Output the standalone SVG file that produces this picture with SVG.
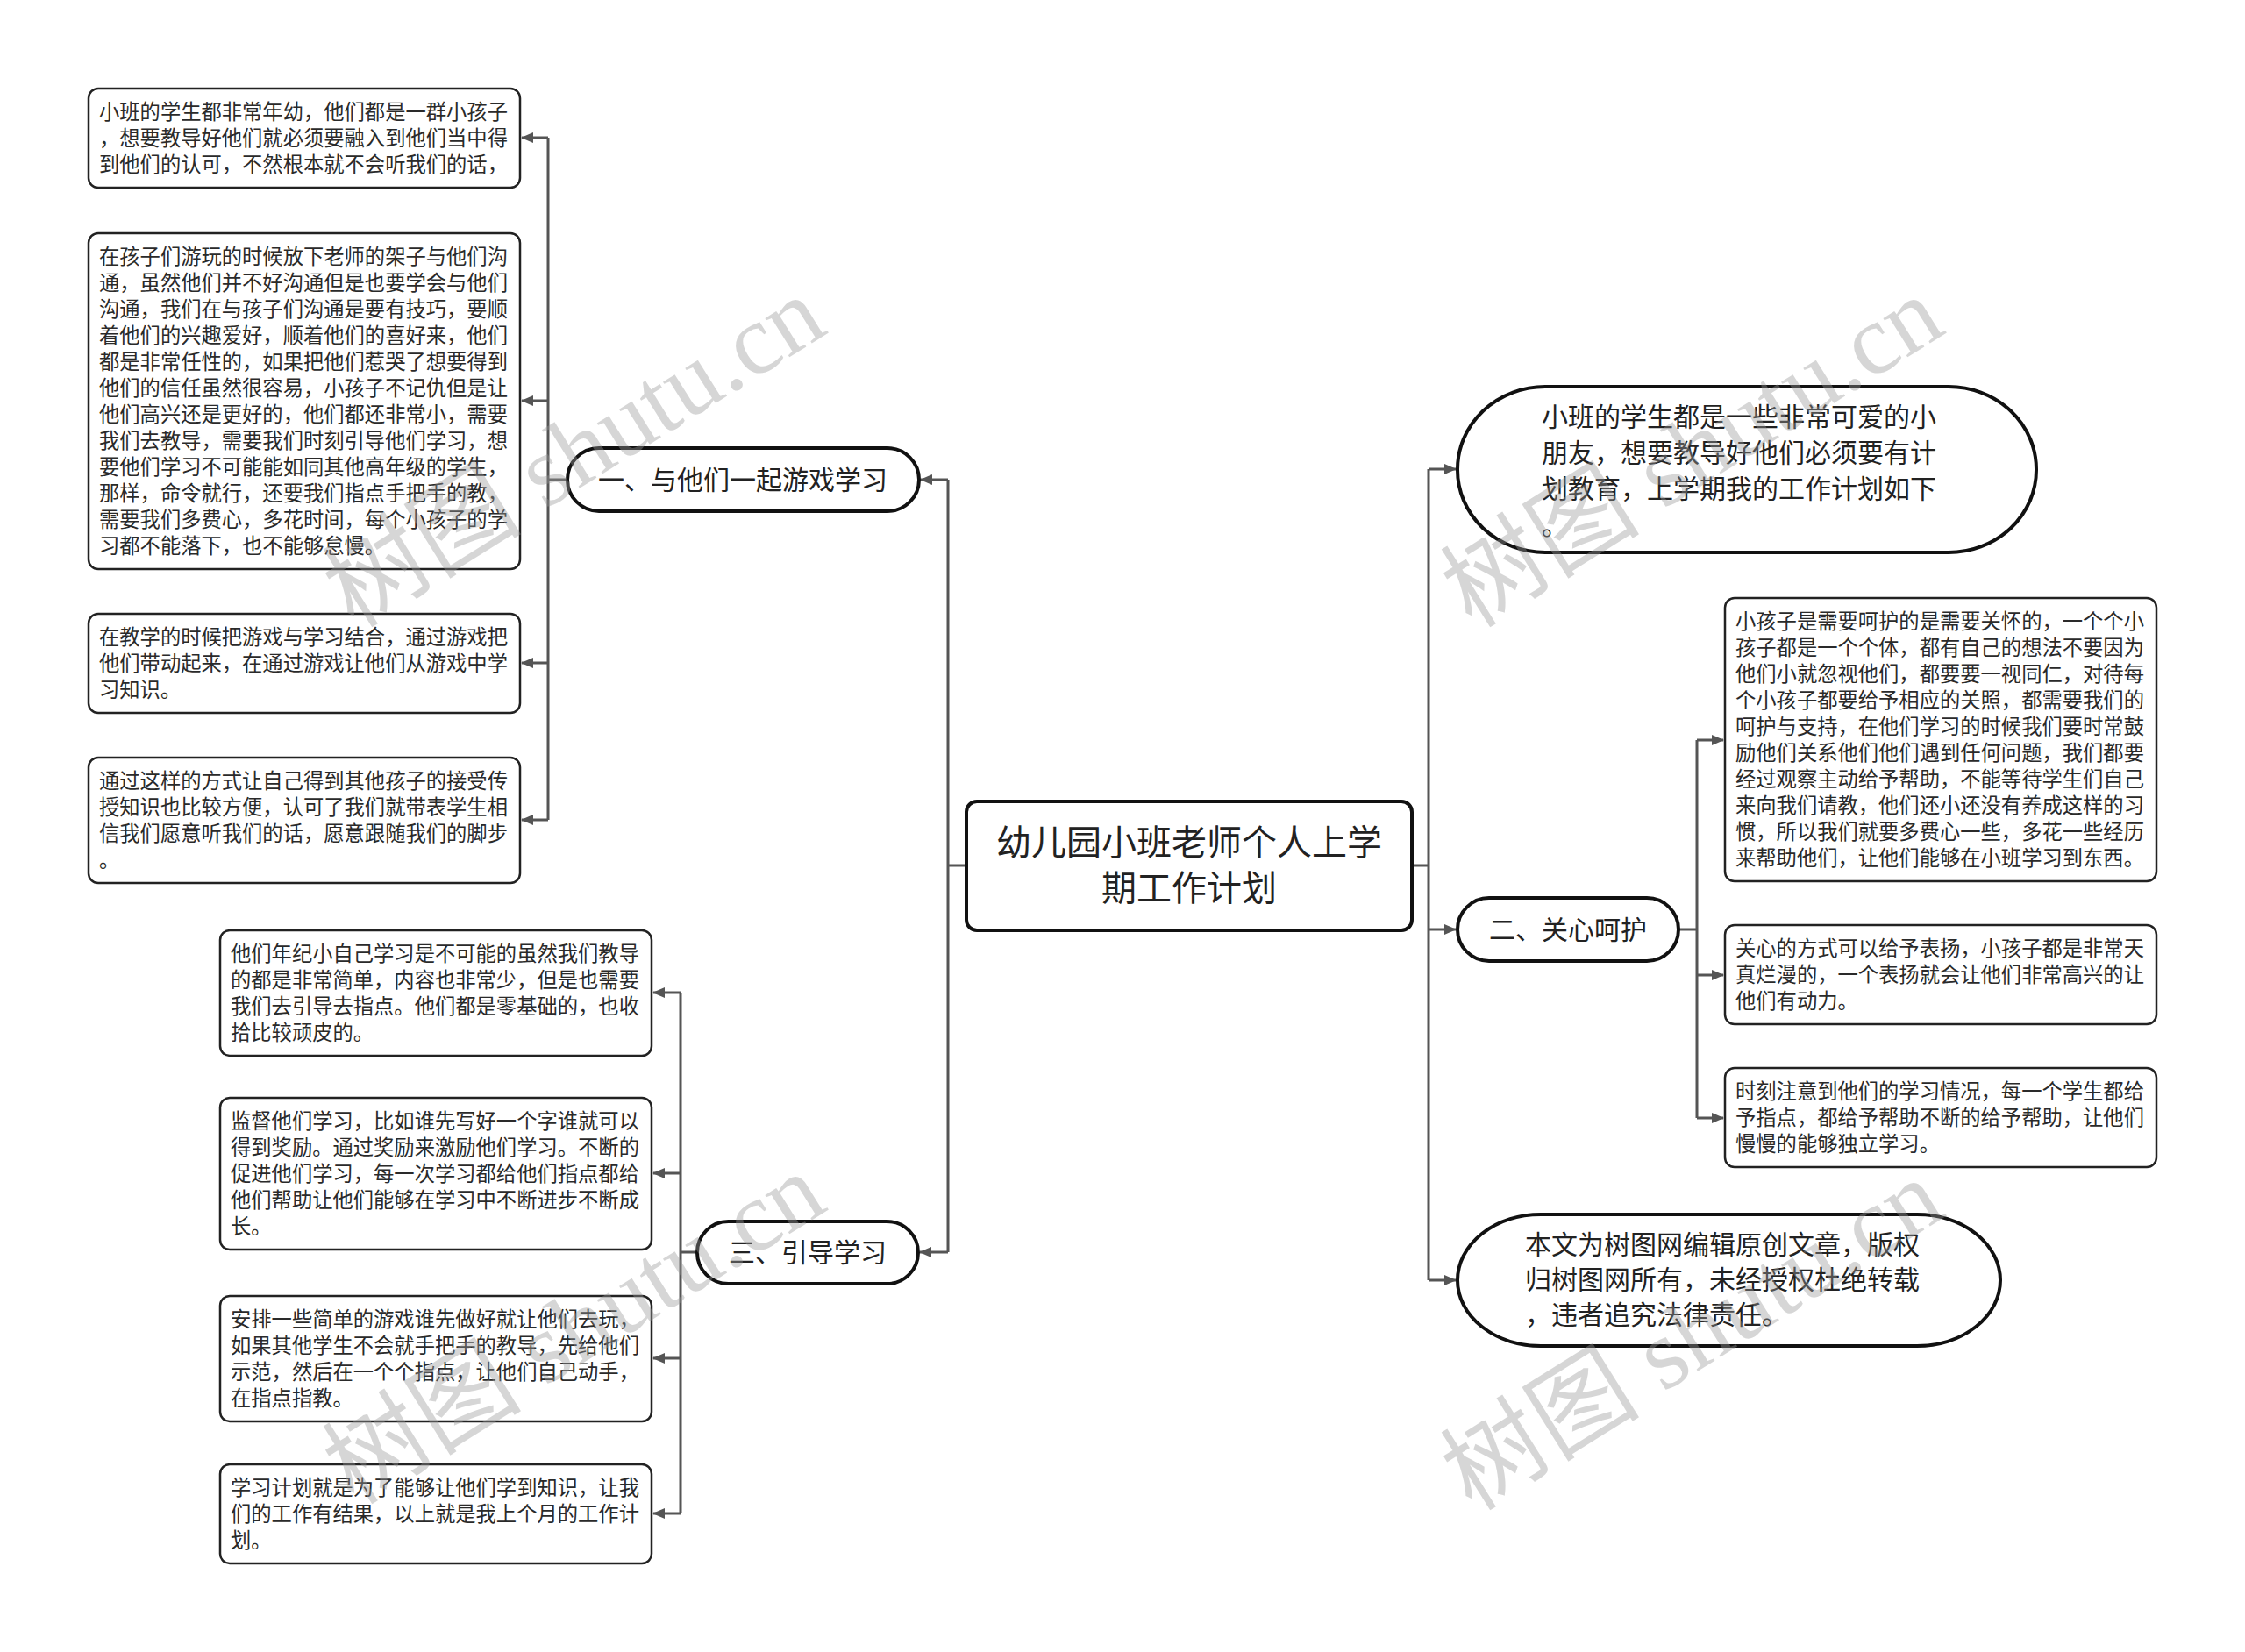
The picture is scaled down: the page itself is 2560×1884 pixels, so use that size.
<svg xmlns="http://www.w3.org/2000/svg" width="2560" height="1884" viewBox="0 0 2560 1884">
<defs>
<style>
.leaf{fill:#fff;stroke:#222;stroke-width:2.5}
.main{fill:#fff;stroke:#111;stroke-width:4}
.lt{font-family:"Noto Sans CJK SC","Noto Sans",sans-serif;font-size:23.3px;fill:#2a2a2a}
.nt{font-family:"Noto Sans CJK SC","Noto Sans",sans-serif;font-size:30px;fill:#222}
.ct{font-family:"Noto Sans CJK SC","Noto Sans",sans-serif;font-size:40px;fill:#222;text-anchor:middle}
.con{fill:none;stroke:#555;stroke-width:3}
.wm{font-family:"Liberation Serif","Noto Sans CJK SC",serif;font-size:114px;fill:#999;fill-opacity:0.4;text-anchor:middle}
</style>
<marker id="arr" markerWidth="14" markerHeight="12" refX="13" refY="6" orient="auto" markerUnits="userSpaceOnUse">
<path d="M0,0 L14,6 L0,12 Z" fill="#555"/>
</marker>
</defs>
<rect width="2560" height="1884" fill="#fff"/>

<g id="connectors">
<path class="con" d="M1102,987 H1081 M1081,547 V1428"/>
<path class="con" d="M1081,547 H1050" marker-end="url(#arr)"/>
<path class="con" d="M1081,1428 H1049" marker-end="url(#arr)"/>
<path class="con" d="M647,547 H625 M625,157 V935"/>
<path class="con" d="M625,157 H595" marker-end="url(#arr)"/>
<path class="con" d="M625,457 H595" marker-end="url(#arr)"/>
<path class="con" d="M625,756 H595" marker-end="url(#arr)"/>
<path class="con" d="M625,935 H595" marker-end="url(#arr)"/>
<path class="con" d="M795,1428 H776 M776,1132 V1726"/>
<path class="con" d="M776,1132 H745" marker-end="url(#arr)"/>
<path class="con" d="M776,1338 H745" marker-end="url(#arr)"/>
<path class="con" d="M776,1549 H745" marker-end="url(#arr)"/>
<path class="con" d="M776,1726 H745" marker-end="url(#arr)"/>
<path class="con" d="M1610,987 H1629 M1629,535 V1460"/>
<path class="con" d="M1629,535 H1660" marker-end="url(#arr)"/>
<path class="con" d="M1629,1060 H1660" marker-end="url(#arr)"/>
<path class="con" d="M1629,1460 H1660" marker-end="url(#arr)"/>
<path class="con" d="M1914,1060 H1935 M1935,844 V1275"/>
<path class="con" d="M1935,844 H1965" marker-end="url(#arr)"/>
<path class="con" d="M1935,1112 H1965" marker-end="url(#arr)"/>
<path class="con" d="M1935,1275 H1965" marker-end="url(#arr)"/>
</g>

<g id="center">
<rect class="main" x="1102" y="914" width="508" height="147" rx="12"/>
<text class="ct"><tspan x="1356" y="975">幼儿园小班老师个人上学</tspan><tspan x="1356" y="1027">期工作计划</tspan></text>
</g>

<g id="b1">
<rect class="main" x="647" y="511" width="401" height="72" rx="36"/>
<text class="nt" x="847" y="558" text-anchor="middle">一、与他们一起游戏学习</text>
</g>
<g id="b1l1">
<rect class="leaf" x="101" y="101" width="492" height="113" rx="11"/>
<text class="lt"><tspan x="113" y="136">小班的学生都非常年幼，他们都是一群小孩子</tspan><tspan x="113" y="166">，想要教导好他们就必须要融入到他们当中得</tspan><tspan x="113" y="196">到他们的认可，不然根本就不会听我们的话，</tspan></text>
</g>
<g id="b1l2">
<rect class="leaf" x="101" y="266" width="492" height="383" rx="11"/>
<text class="lt"><tspan x="113" y="301">在孩子们游玩的时候放下老师的架子与他们沟</tspan><tspan x="113" y="331">通，虽然他们并不好沟通但是也要学会与他们</tspan><tspan x="113" y="361">沟通，我们在与孩子们沟通是要有技巧，要顺</tspan><tspan x="113" y="391">着他们的兴趣爱好，顺着他们的喜好来，他们</tspan><tspan x="113" y="421">都是非常任性的，如果把他们惹哭了想要得到</tspan><tspan x="113" y="451">他们的信任虽然很容易，小孩子不记仇但是让</tspan><tspan x="113" y="481">他们高兴还是更好的，他们都还非常小，需要</tspan><tspan x="113" y="511">我们去教导，需要我们时刻引导他们学习，想</tspan><tspan x="113" y="541">要他们学习不可能能如同其他高年级的学生，</tspan><tspan x="113" y="571">那样，命令就行，还要我们指点手把手的教，</tspan><tspan x="113" y="601">需要我们多费心，多花时间，每个小孩子的学</tspan><tspan x="113" y="631">习都不能落下，也不能够怠慢。</tspan></text>
</g>
<g id="b1l3">
<rect class="leaf" x="101" y="700" width="492" height="113" rx="11"/>
<text class="lt"><tspan x="113" y="735">在教学的时候把游戏与学习结合，通过游戏把</tspan><tspan x="113" y="765">他们带动起来，在通过游戏让他们从游戏中学</tspan><tspan x="113" y="795">习知识。</tspan></text>
</g>
<g id="b1l4">
<rect class="leaf" x="101" y="864" width="492" height="143" rx="11"/>
<text class="lt"><tspan x="113" y="899">通过这样的方式让自己得到其他孩子的接受传</tspan><tspan x="113" y="929">授知识也比较方便，认可了我们就带表学生相</tspan><tspan x="113" y="959">信我们愿意听我们的话，愿意跟随我们的脚步</tspan><tspan x="113" y="989">。</tspan></text>
</g>

<g id="b3">
<rect class="main" x="795" y="1393" width="252" height="71" rx="35.5"/>
<text class="nt" x="921" y="1439" text-anchor="middle">三、引导学习</text>
</g>
<g id="b3l1">
<rect class="leaf" x="251" y="1061" width="492" height="143" rx="11"/>
<text class="lt"><tspan x="263" y="1096">他们年纪小自己学习是不可能的虽然我们教导</tspan><tspan x="263" y="1126">的都是非常简单，内容也非常少，但是也需要</tspan><tspan x="263" y="1156">我们去引导去指点。他们都是零基础的，也收</tspan><tspan x="263" y="1186">拾比较顽皮的。</tspan></text>
</g>
<g id="b3l2">
<rect class="leaf" x="251" y="1252" width="492" height="173" rx="11"/>
<text class="lt"><tspan x="263" y="1287">监督他们学习，比如谁先写好一个字谁就可以</tspan><tspan x="263" y="1317">得到奖励。通过奖励来激励他们学习。不断的</tspan><tspan x="263" y="1347">促进他们学习，每一次学习都给他们指点都给</tspan><tspan x="263" y="1377">他们帮助让他们能够在学习中不断进步不断成</tspan><tspan x="263" y="1407">长。</tspan></text>
</g>
<g id="b3l3">
<rect class="leaf" x="251" y="1478" width="492" height="143" rx="11"/>
<text class="lt"><tspan x="263" y="1513">安排一些简单的游戏谁先做好就让他们去玩，</tspan><tspan x="263" y="1543">如果其他学生不会就手把手的教导，先给他们</tspan><tspan x="263" y="1573">示范，然后在一个个指点，让他们自己动手，</tspan><tspan x="263" y="1603">在指点指教。</tspan></text>
</g>
<g id="b3l4">
<rect class="leaf" x="251" y="1670" width="492" height="113" rx="11"/>
<text class="lt"><tspan x="263" y="1705">学习计划就是为了能够让他们学到知识，让我</tspan><tspan x="263" y="1735">们的工作有结果，以上就是我上个月的工作计</tspan><tspan x="263" y="1765">划。</tspan></text>
</g>

<g id="r1">
<rect class="main" x="1662" y="441" width="660" height="189" rx="100" ry="94"/>
<text class="nt"><tspan x="1758" y="486">小班的学生都是一些非常可爱的小</tspan><tspan x="1758" y="527">朋友，想要教导好他们必须要有计</tspan><tspan x="1758" y="568">划教育，上学期我的工作计划如下</tspan><tspan x="1758" y="610">。</tspan></text>
</g>

<g id="b2">
<rect class="main" x="1662" y="1024" width="252" height="72" rx="36"/>
<text class="nt" x="1788" y="1071" text-anchor="middle">二、关心呵护</text>
</g>
<g id="b2l1">
<rect class="leaf" x="1967" y="682" width="492" height="323" rx="11"/>
<text class="lt"><tspan x="1979" y="717">小孩子是需要呵护的是需要关怀的，一个个小</tspan><tspan x="1979" y="747">孩子都是一个个体，都有自己的想法不要因为</tspan><tspan x="1979" y="777">他们小就忽视他们，都要要一视同仁，对待每</tspan><tspan x="1979" y="807">个小孩子都要给予相应的关照，都需要我们的</tspan><tspan x="1979" y="837">呵护与支持，在他们学习的时候我们要时常鼓</tspan><tspan x="1979" y="867">励他们关系他们他们遇到任何问题，我们都要</tspan><tspan x="1979" y="897">经过观察主动给予帮助，不能等待学生们自己</tspan><tspan x="1979" y="927">来向我们请教，他们还小还没有养成这样的习</tspan><tspan x="1979" y="957">惯，所以我们就要多费心一些，多花一些经历</tspan><tspan x="1979" y="987">来帮助他们，让他们能够在小班学习到东西。</tspan></text>
</g>
<g id="b2l2">
<rect class="leaf" x="1967" y="1055" width="492" height="113" rx="11"/>
<text class="lt"><tspan x="1979" y="1090">关心的方式可以给予表扬，小孩子都是非常天</tspan><tspan x="1979" y="1120">真烂漫的，一个表扬就会让他们非常高兴的让</tspan><tspan x="1979" y="1150">他们有动力。</tspan></text>
</g>
<g id="b2l3">
<rect class="leaf" x="1967" y="1218" width="492" height="113" rx="11"/>
<text class="lt"><tspan x="1979" y="1253">时刻注意到他们的学习情况，每一个学生都给</tspan><tspan x="1979" y="1283">予指点，都给予帮助不断的给予帮助，让他们</tspan><tspan x="1979" y="1313">慢慢的能够独立学习。</tspan></text>
</g>

<g id="r3">
<rect class="main" x="1662" y="1385" width="619" height="150" rx="95" ry="75"/>
<text class="nt"><tspan x="1739" y="1430">本文为树图网编辑原创文章，版权</tspan><tspan x="1739" y="1470">归树图网所有，未经授权杜绝转载</tspan><tspan x="1739" y="1510">，违者追究法律责任。</tspan></text>
</g>

<g id="watermarks">
<text class="wm" transform="translate(675,548) rotate(-32)">树图 shutu.cn</text>
<text class="wm" transform="translate(1950,548) rotate(-32)">树图 shutu.cn</text>
<text class="wm" transform="translate(675,1548) rotate(-32)">树图 shutu.cn</text>
<text class="wm" transform="translate(1950,1555) rotate(-32)">树图 shutu.cn</text>
</g>
</svg>
